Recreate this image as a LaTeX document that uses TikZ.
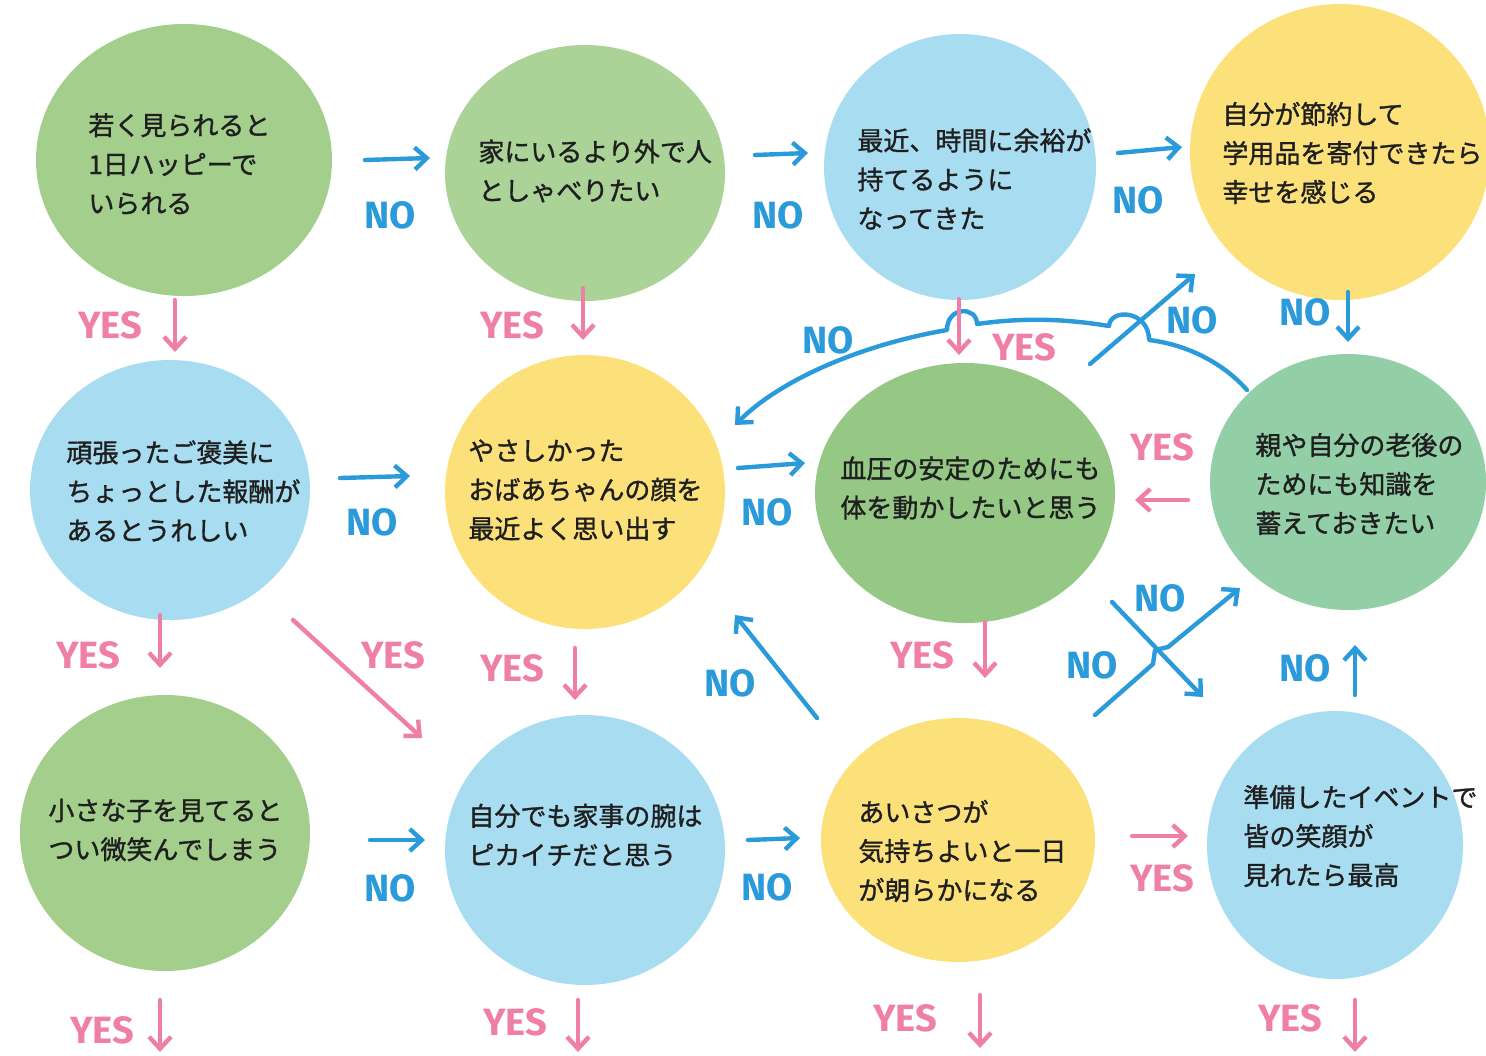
\documentclass[tikz,border=0pt]{standalone}
\usepackage{fontspec}
\newfontfamily\jp{Noto Sans CJK JP}[AutoFakeBold=1.2]
\newfontfamily\hand{Fira Sans}
\usetikzlibrary{arrows.meta,shapes.geometric}
\definecolor{gr}{HTML}{A3CE8C}
\definecolor{grd}{HTML}{95C785}
\definecolor{bl}{HTML}{A8DDF1}
\definecolor{ye}{HTML}{FCE17A}
\definecolor{te}{HTML}{92CEA6}
\definecolor{nob}{HTML}{2A9ADA}
\definecolor{yesp}{HTML}{F07FA8}
\tikzset{
  blob/.style n args={2}{ellipse, draw=none, inner sep=0pt, minimum width=#1, minimum height=#2},
  txt/.style={anchor=west, inner sep=0pt, align=left, font=\jp\bfseries\fontsize{13pt}{19.5pt}\selectfont, text=black!88},
  noarr/.style={draw=nob, line width=2.2pt, line cap=round, line join=round, -{Straight Barb[length=6pt,width=11pt,line width=2.2pt]}},
  yesarr/.style={draw=yesp, line width=2.2pt, line cap=round, line join=round, -{Straight Barb[length=6pt,width=11pt,line width=2.2pt]}},
  nolab/.style={text=nob, font=\hand\bfseries\fontsize{19pt}{19pt}\selectfont, inner sep=0pt},
  yeslab/.style={text=yesp, font=\hand\bfseries\fontsize{19pt}{19pt}\selectfont, inner sep=0pt},
}
\begin{document}
\begin{tikzpicture}[x=0.5pt,y=-0.5pt]
\useasboundingbox (0,0) rectangle (1486,1055);
\clip (0,0) rectangle (1486,1055);
% blobs
\node[blob={148pt}{136pt}, fill=gr] (c1) at (184,160) {};
\node[blob={140pt}{128pt}, fill=gr!90] (c2) at (585,173) {};
\node[blob={136pt}{133pt}, fill=bl] (c3) at (960,167) {};
\node[blob={150pt}{148pt}, fill=ye] (c4) at (1340,152) {};
\node[blob={140pt}{130pt}, fill=bl] (c5) at (170,490) {};
\node[blob={140pt}{137pt}, fill=ye] (c6) at (585,492) {};
\node[blob={150pt}{130pt}, fill=grd] (c7) at (965,493) {};
\node[blob={138pt}{128pt}, fill=te] (c8) at (1348,482) {};
\node[blob={145pt}{138pt}, fill=gr] (c9) at (165,833) {};
\node[blob={140pt}{135pt}, fill=bl] (c10) at (585,850) {};
\node[blob={137pt}{122pt}, fill=ye] (c11) at (958,840) {};
\node[blob={128pt}{134pt}, fill=bl] (c12) at (1335,845) {};
% texts
\node[txt] (t1) at (88,164) {若く見られると\\1日ハッピーで\\いられる};
\node[txt] (t2) at (478,171) {家にいるより外で人\\としゃべりたい};
\node[txt] (t3) at (857,179) {最近、時間に余裕が\\持てるように\\なってきた};
\node[txt] (t4) at (1222,153) {自分が節約して\\学用品を寄付できたら\\幸せを感じる};
\node[txt] (t5) at (66,491) {頑張ったご褒美に\\ちょっとした報酬が\\あるとうれしい};
\node[txt] (t6) at (468,490) {やさしかった\\おばあちゃんの顔を\\最近よく思い出す};
\node[txt] (t7) at (840,488) {血圧の安定のためにも\\体を動かしたいと思う};
\node[txt] (t8) at (1255,484) {親や自分の老後の\\ためにも知識を\\蓄えておきたい};
\node[txt] (t9) at (48,830) {小さな子を見てると\\つい微笑んでしまう};
\node[txt] (t10) at (468,835) {自分でも家事の腕は\\ピカイチだと思う};
\node[txt] (t11) at (858,851) {あいさつが\\気持ちよいと一日\\が朗らかになる};
\node[txt] (t12) at (1243,836) {準備したイベントで\\皆の笑顔が\\見れたら最高};
% coordinates for connectors
\coordinate (a1s) at (365,160); \coordinate (a1e) at (430,158);
\coordinate (a2s) at (755,155); \coordinate (a2e) at (808,153);
\coordinate (a3s) at (1118,153); \coordinate (a3e) at (1182,147);
\coordinate (a4s) at (340,478); \coordinate (a4e) at (410,476);
\coordinate (a5s) at (738,468); \coordinate (a5e) at (805,463);
\coordinate (a6s) at (370,840); \coordinate (a6e) at (425,840);
\coordinate (a7s) at (748,840); \coordinate (a7e) at (800,838);
\coordinate (p1s) at (1188,500); \coordinate (p1e) at (1135,500);
\coordinate (p2s) at (1132,836); \coordinate (p2e) at (1188,836);
\coordinate (d1s) at (175,300); \coordinate (d1e) at (175,352);
\coordinate (d2s) at (583,288); \coordinate (d2e) at (583,340);
\coordinate (d3s) at (959,299); \coordinate (d3e) at (959,355);
\coordinate (n4s) at (1348,292); \coordinate (n4e) at (1348,342);
\coordinate (d4s) at (160,615); \coordinate (d4e) at (160,668);
\coordinate (dgs) at (293,620); \coordinate (dge) at (422,738);
\coordinate (d5s) at (575,648); \coordinate (d5e) at (575,700);
\coordinate (d6s) at (985,622); \coordinate (d6e) at (985,678);
\coordinate (n8s) at (1355,695); \coordinate (n8e) at (1355,645);
\coordinate (ngs) at (817,718); \coordinate (nge) at (735,615);
\coordinate (x1s) at (1112,602); \coordinate (x1e) at (1203,697);
\coordinate (x2s) at (1095,715); \coordinate (x2e) at (1240,588);
\coordinate (b1s) at (160,1000); \coordinate (b1e) at (160,1052);
\coordinate (b2s) at (578,1000); \coordinate (b2e) at (578,1052);
\coordinate (b3s) at (980,995); \coordinate (b3e) at (980,1048);
\coordinate (b4s) at (1355,1000); \coordinate (b4e) at (1355,1052);
\coordinate (arcs) at (1247,390); \coordinate (arce) at (735,425);
\coordinate (ns) at (1090,364); \coordinate (ne) at (1195,274);
% NO arrows
\draw[noarr] (a1s) -- (a1e);
\draw[noarr] (a2s) -- (a2e);
\draw[noarr] (a3s) -- (a3e);
\draw[noarr] (a4s) -- (a4e);
\draw[noarr] (a5s) -- (a5e);
\draw[noarr] (a6s) -- (a6e);
\draw[noarr] (a7s) -- (a7e);
\draw[noarr] (n4s) -- (n4e);
\draw[noarr] (n8s) -- (n8e);
\draw[noarr] (ngs) -- (nge);
\draw[noarr] (x1s) -- (x1e);
\draw[noarr] (x2s) -- (1153,664) -- (1155,650) -- (1168,647) -- (x2e);
\draw[noarr] (ns) -- (ne);
\draw[noarr] (arcs) .. controls (1225,365) and (1190,345) .. (1149,340)
  .. controls (1149,310) and (1110,308) .. (1109,326)
  .. controls (1060,318) and (1020,318) .. (977,324)
  .. controls (977,306) and (947,306) .. (947,330)
  .. controls (860,345) and (780,380) .. (arce);
% YES arrows
\draw[yesarr] (p1s) -- (p1e);
\draw[yesarr] (p2s) -- (p2e);
\draw[yesarr] (d1s) -- (d1e);
\draw[yesarr] (d2s) -- (d2e);
\draw[yesarr] (d3s) -- (d3e);
\draw[yesarr] (d4s) -- (d4e);
\draw[yesarr] (dgs) -- (dge);
\draw[yesarr] (d5s) -- (d5e);
\draw[yesarr] (d6s) -- (d6e);
\draw[yesarr] (b1s) -- (b1e);
\draw[yesarr] (b2s) -- (b2e);
\draw[yesarr] (b3s) -- (b3e);
\draw[yesarr] (b4s) -- (b4e);
% labels
\node[nolab] (l1) at (390,215) {NO};
\node[nolab] (l2) at (778,215) {NO};
\node[nolab] (l3) at (1138,200) {NO};
\node[nolab] (l4) at (372,522) {NO};
\node[nolab] (l5) at (767,512) {NO};
\node[nolab] (l6) at (390,888) {NO};
\node[nolab] (l7) at (767,887) {NO};
\node[nolab] (l8) at (1305,312) {NO};
\node[nolab] (l9) at (1305,668) {NO};
\node[nolab] (l10) at (730,683) {NO};
\node[nolab] (l11) at (1160,598) {NO};
\node[nolab] (l12) at (1092,665) {NO};
\node[nolab] (l13) at (828,340) {NO};
\node[nolab] (l14) at (1192,320) {NO};
\node[yeslab] (y1) at (110,325) {YES};
\node[yeslab] (y2) at (512,325) {YES};
\node[yeslab] (y3) at (1024,347) {YES};
\node[yeslab] (y4) at (88,655) {YES};
\node[yeslab] (y5) at (393,655) {YES};
\node[yeslab] (y6) at (512,668) {YES};
\node[yeslab] (y7) at (922,655) {YES};
\node[yeslab] (y8) at (1162,447) {YES};
\node[yeslab] (y9) at (1162,878) {YES};
\node[yeslab] (y10) at (102,1030) {YES};
\node[yeslab] (y11) at (515,1022) {YES};
\node[yeslab] (y12) at (905,1018) {YES};
\node[yeslab] (y13) at (1290,1018) {YES};
\end{tikzpicture}
\end{document}
